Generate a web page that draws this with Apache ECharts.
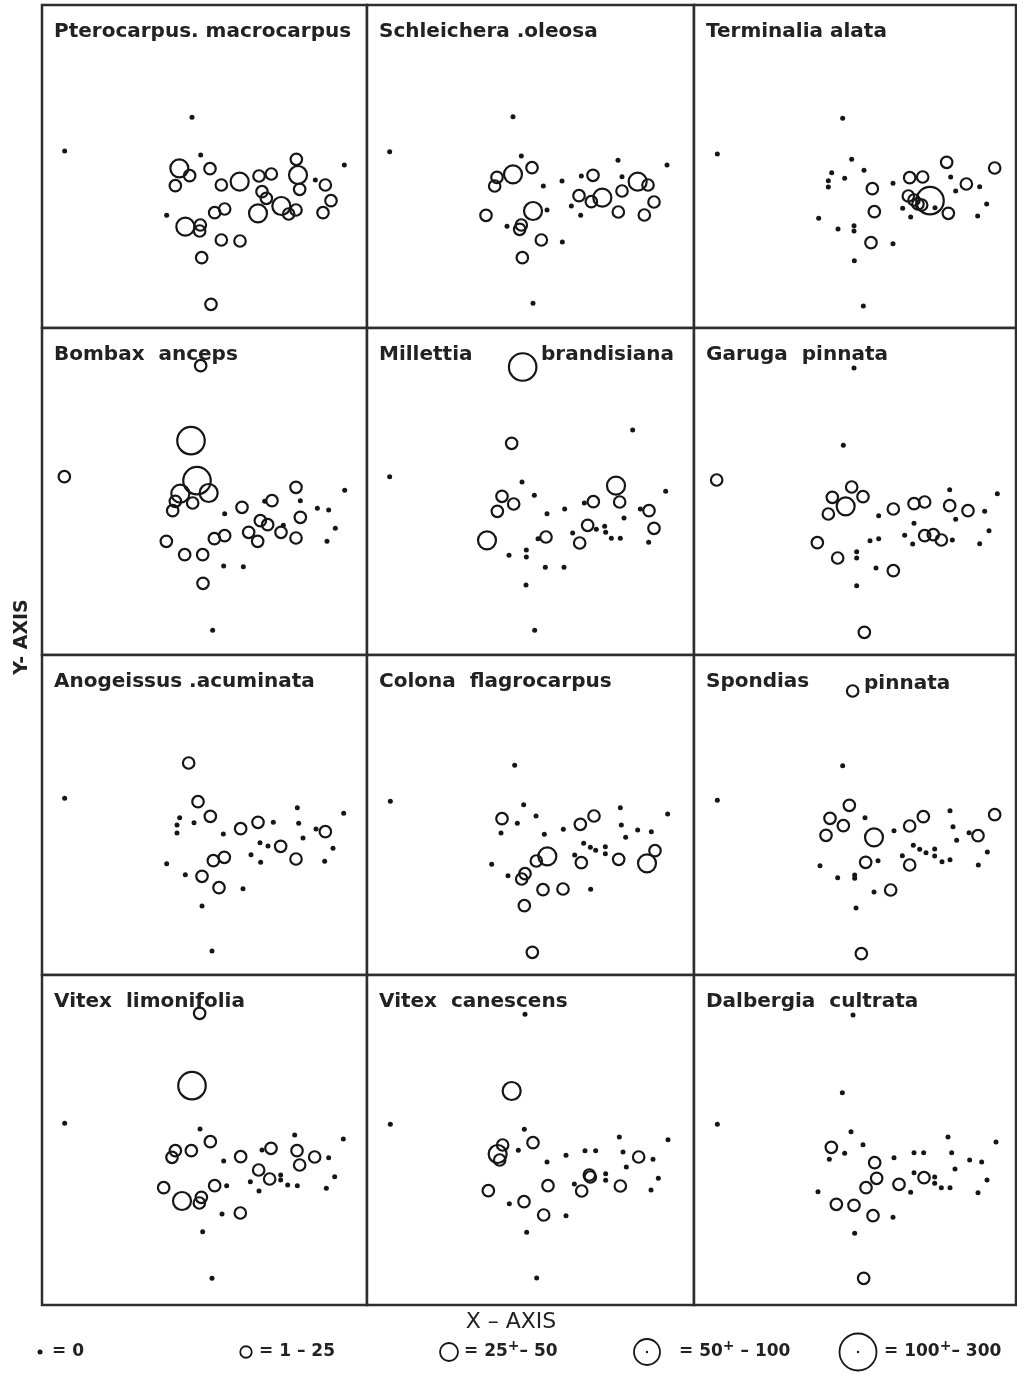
<!DOCTYPE html>
<html><head><meta charset="utf-8">
<script src="https://cdn.jsdelivr.net/npm/echarts@6/dist/echarts.min.js"></script>
<style>html,body{margin:0;padding:0;background:#fff}#c{width:1017px;height:1373px}</style>
</head><body><div id="c"></div>
<script>
// Species titles (row-major order of panels)
const speciesNames = [
  'Pterocarpus. macrocarpus','Schleichera .oleosa','Terminalia alata',
  'Bombax  anceps','Millettia','Garuga  pinnata',
  'Anogeissus .acuminata','Colona  flagrocarpus','Spondias',
  'Vitex  limonifolia','Vitex  canescens','Dalbergia  cultrata'
];
// abundance classes: 0 = 0, 1 = 1-25, 2 = 25+-50, 3 = 50+-100, 4 = 100+-300
const classLabels = ['= 0','= 1 – 25','= 25+– 50','= 50+ – 100','= 100+– 300'];

// Site scores [x, y, abundance class] for each species
const pterocarpus = [[450,337,0],[68,438,0],[476,450,0],[907,480,0],[820,525,0],[374,631,0],
 [412,490,2],[443,512,1],[400,542,1],[504,491,1],[538,540,1],[593,530,2],[651,513,1],[688,507,1],
 [763,463,1],[768,510,2],[773,553,1],[850,540,1],[867,587,1],[843,623,1],[660,560,1],[673,580,1],
 [648,625,2],[718,603,2],[740,627,1],[762,615,1],[548,612,1],[518,623,1],[430,665,2],[475,660,1],
 [473,678,1],[538,705,1],[594,708,1],[479,758,1],[507,898,1]];
const schleichera = [[438,335,0],[68,440,0],[463,453,0],[753,466,0],[900,480,0],[585,528,0],[643,513,0],
 [765,515,0],[529,543,0],[613,603,0],[540,615,0],[641,631,0],[420,664,0],[586,711,0],[498,895,0],
 [390,517,1],[383,543,1],[438,508,2],[495,488,1],[498,618,2],[357,631,1],[463,660,1],[458,673,1],
 [523,705,1],[466,758,1],[678,511,1],[636,572,1],[673,590,1],[706,578,2],[765,558,1],[812,530,2],
 [843,540,1],[861,591,1],[754,621,1],[832,630,1]];
const terminalia = [[446,340,0],[70,447,0],[473,463,0],[413,503,0],[510,496,0],[403,527,0],[403,546,0],
 [452,520,0],[597,535,0],[770,516,0],[785,558,0],[857,545,0],[878,597,0],[851,633,0],[374,640,0],
 [432,672,0],[480,662,0],[480,678,0],[626,610,0],[650,636,0],[723,608,0],[597,716,0],[481,767,0],[508,903,0],
 [535,551,1],[541,620,1],[531,713,1],[647,518,1],[686,516,1],[758,472,1],[817,537,1],[902,489,1],
 [643,573,1],[660,585,1],[672,597,1],[683,600,1],[708,587,3],[763,625,1]];
const bombax = [[476,113,1],[447,338,3],[465,458,3],[415,497,2],[500,495,2],[400,520,1],[392,548,1],
 [452,525,1],[67,446,1],[762,478,1],[690,518,1],[600,538,1],[775,568,1],[655,578,1],[677,590,1],
 [717,613,1],[620,613,1],[647,640,1],[762,630,1],[548,623,1],[517,632,1],[373,640,1],[428,680,1],
 [482,680,1],[483,766,1],
 [908,487,0],[775,518,0],[826,541,0],[860,546,0],[880,601,0],[855,640,0],[548,557,0],[668,520,0],
 [724,592,0],[545,714,0],[604,716,0],[512,907,0]];
const millettia = [[467,117,3],[434,346,1],[747,473,2],[405,505,1],[440,528,1],[391,550,1],[360,637,2],
 [679,521,1],[758,522,1],[846,548,1],[861,601,1],[662,592,1],[537,627,1],[638,645,1],
 [797,306,0],[68,446,0],[465,462,0],[502,502,0],[896,490,0],[593,543,0],[540,557,0],[771,570,0],
 [820,543,0],[652,525,0],[713,595,0],[716,613,0],[688,604,0],[617,615,0],[733,631,0],[760,631,0],
 [845,643,0],[513,632,0],[426,682,0],[478,666,0],[478,687,0],[535,718,0],[591,718,0],[477,771,0],[503,907,0]];
const garuga = [[68,456,1],[473,477,1],[415,508,1],[455,535,2],[507,506,1],[403,558,1],[598,543,1],
 [660,527,1],[692,522,1],[767,533,1],[822,548,1],[692,623,1],[718,620,1],[742,636,1],[370,644,1],
 [431,690,1],[598,728,1],[511,913,1],
 [480,120,0],[448,352,0],[767,485,0],[910,497,0],[872,550,0],[554,563,0],[785,574,0],[660,586,0],
 [885,608,0],[632,622,0],[554,632,0],[528,638,0],[656,648,0],[775,636,0],[857,647,0],[488,671,0],
 [488,690,0],[546,720,0],[488,773,0]];
const anogeissus = [[440,324,1],[468,440,1],[505,484,1],[596,521,1],[648,502,1],[850,530,1],[716,574,1],
 [762,612,1],[547,607,1],[514,617,1],[480,664,1],[531,698,1],
 [68,430,0],[413,488,0],[405,510,0],[405,534,0],[456,503,0],[544,537,0],[694,502,0],[766,458,0],
 [770,505,0],[905,475,0],[822,522,0],[783,549,0],[654,563,0],[678,573,0],[873,580,0],[627,599,0],
 [656,622,0],[848,619,0],[374,626,0],[430,659,0],[603,701,0],[480,753,0],[510,888,0]];
const colona = [[405,491,1],[640,508,1],[681,483,1],[541,604,2],[508,618,1],[643,623,1],[755,613,1],
 [864,587,1],[840,625,2],[474,656,1],[464,672,1],[528,704,1],[588,702,1],[472,752,1],[496,892,1],
 [443,331,0],[70,439,0],[470,449,0],[507,483,0],[451,505,0],[402,534,0],[532,538,0],[589,523,0],
 [760,458,0],[763,510,0],[812,525,0],[853,530,0],[902,477,0],[776,547,0],[650,565,0],[670,577,0],
 [686,586,0],[715,575,0],[715,596,0],[623,600,0],[374,628,0],[423,662,0],[671,703,0]];
const spondias = [[476,108,1],[466,451,1],[408,490,1],[448,512,1],[396,541,1],[540,547,2],[647,513,1],
 [688,485,1],[852,542,1],[902,479,1],[515,622,1],[647,630,1],[590,705,1],[502,896,1],
 [446,332,0],[70,436,0],[513,488,0],[768,467,0],[777,515,0],[600,527,0],[788,556,0],[825,533,0],
 [658,571,0],[677,583,0],[696,593,0],[722,582,0],[722,603,0],[744,620,0],[768,614,0],[880,591,0],
 [853,630,0],[625,602,0],[552,617,0],[378,632,0],[431,668,0],[482,660,0],[482,670,0],[540,711,0],[486,759,0]];
const vitexLimonifolia = [[473,115,1],[450,332,3],[505,500,1],[448,527,1],[400,527,1],[390,547,1],
 [596,545,1],[687,520,1],[765,527,1],[773,570,1],[818,546,1],[650,585,1],[683,612,1],[518,632,1],
 [365,638,1],[420,678,2],[478,667,1],[472,684,1],[595,714,1],
 [68,445,0],[474,462,0],[758,480,0],[904,492,0],[860,548,0],[545,558,0],[660,525,0],[716,600,0],
 [716,615,0],[737,630,0],[766,632,0],[878,605,0],[853,640,0],[625,620,0],[651,648,0],[554,632,0],
 [540,717,0],[482,770,0],[510,910,0]];
const vitexCanescens = [[434,348,2],[407,510,1],[392,537,2],[398,555,1],[498,503,1],[815,546,1],
 [667,600,1],[670,606,1],[543,632,1],[644,648,1],[760,633,1],[364,647,1],[471,680,1],[530,720,1],
 [474,118,0],[70,448,0],[472,463,0],[757,486,0],[903,494,0],[454,526,0],[540,561,0],[597,541,0],
 [654,527,0],[686,527,0],[768,531,0],[858,553,0],[778,576,0],[716,596,0],[716,616,0],[622,627,0],
 [874,610,0],[852,645,0],[427,686,0],[597,722,0],[479,772,0],[509,909,0]];
const dalbergia = [[412,517,1],[542,563,1],[548,610,1],[516,638,1],[615,628,1],[690,608,1],[427,688,1],
 [480,691,1],[537,722,1],[509,910,1],
 [477,120,0],[445,353,0],[70,448,0],[471,470,0],[452,535,0],[507,509,0],[406,553,0],[600,548,0],
 [660,533,0],[689,533,0],[762,486,0],[773,533,0],[906,501,0],[827,555,0],[863,561,0],[783,582,0],
 [660,593,0],[722,606,0],[722,625,0],[742,638,0],[768,638,0],[879,615,0],[852,653,0],[650,652,0],
 [372,650,0],[597,727,0],[482,775,0]];

const speciesData = [pterocarpus, schleichera, terminalia, bombax, millettia, garuga,
  anogeissus, colona, spondias, vitexLimonifolia, vitexCanescens, dalbergia];

// ---- layout / style (not data) ----
const colLeft = [42, 367, 694], colW = [325, 327, 322];
const rowTop = [5, 328, 655, 975], rowH = [323, 327, 320, 330];
const symSize = [5, 11.5, 18, 27.5, 36];
const ink = '#161616';
const txt = '#222';
const titleFont = 'bold 20px "DejaVu Sans", "Liberation Sans", sans-serif';

const chart = echarts.init(document.getElementById('c'), null, {renderer: 'canvas'});
const grids = [], xAxes = [], yAxes = [], series = [], graphics = [];
speciesData.forEach((pts, i) => {
  const r = Math.floor(i / 3), c = i % 3;
  grids.push({left: colLeft[c], top: rowTop[r], width: colW[c], height: rowH[r],
    show: true, borderColor: '#2e2e2e', borderWidth: 2.5, backgroundColor: '#fff'});
  xAxes.push({gridIndex: i, type: 'value', min: 0, max: colW[c] * 3, show: false});
  yAxes.push({gridIndex: i, type: 'value', min: 0, max: rowH[r] * 3, inverse: true, show: false});
  series.push({
    type: 'scatter', xAxisIndex: i, yAxisIndex: i, symbol: 'circle',
    symbolSize: v => symSize[v[2]],
    data: pts.map(p => ({value: p, itemStyle: p[2] === 0
      ? {color: ink, borderWidth: 0, opacity: 1}
      : {color: 'rgba(0,0,0,0)', borderColor: ink, borderWidth: 2.2, opacity: 1}})),
    emphasis: {disabled: true}, silent: true, z: 3
  });
  graphics.push({type: 'text', left: colLeft[c] + 12, top: rowTop[r] + 17, z: 10,
    style: {text: speciesNames[i], font: titleFont, fill: txt}});
});
// second word of Millettia / Spondias titles placed further right as in reference
graphics.push({type: 'text', left: 367 + 174, top: 328 + 17, z: 10,
  style: {text: 'brandisiana', font: titleFont, fill: txt}});
graphics.push({type: 'text', left: 694 + 170, top: 655 + 19, z: 10,
  style: {text: 'pinnata', font: titleFont, fill: txt}});

// axis labels
graphics.push({type: 'text', x: 511, y: 1322, z: 10,
  style: {text: 'X – AXIS', font: '22px "DejaVu Sans", sans-serif', fill: txt, textAlign: 'center', textVerticalAlign: 'middle'}});
graphics.push({type: 'text', x: 22, y: 637, rotation: Math.PI / 2, z: 10,
  style: {text: 'Y- AXIS', font: 'bold 19px "DejaVu Sans", sans-serif', fill: txt, textAlign: 'center', textVerticalAlign: 'middle'}});

// legend
const legItems = [
  {cx: 40, size: 5, tx: 52},
  {cx: 246, size: 11.5, tx: 259},
  {cx: 449, size: 18, tx: 464},
  {cx: 647, size: 26, tx: 679, dot: true},
  {cx: 858, size: 37, tx: 884, dot: true}
];
legItems.forEach((it, k) => {
  graphics.push({type: 'circle', shape: {cx: it.cx, cy: 1352, r: it.size / 2}, z: 10,
    style: k === 0 ? {fill: ink} : {fill: 'none', stroke: ink, lineWidth: 1.8}});
  if (it.dot) graphics.push({type: 'circle', shape: {cx: it.cx, cy: 1352, r: 1.2}, z: 10, style: {fill: ink}});
  const rich = '{n|' + classLabels[k].replace('+', '}{s|+}{n|') + '}';
  graphics.push({type: 'text', x: it.tx, y: 1352, z: 10,
    style: {text: rich, textVerticalAlign: 'middle',
      rich: {
        n: {font: 'bold 17px "DejaVu Sans", sans-serif', fill: txt, fontSize: 17, fontWeight: 'bold', fontFamily: 'DejaVu Sans', color: txt},
        s: {fontSize: 14, fontWeight: 'bold', fontFamily: 'DejaVu Sans', fill: txt, color: txt, padding: [0, 0, 12, 0]}
      }}});
});

chart.setOption({
  animation: false,
  backgroundColor: '#fff',
  grid: grids, xAxis: xAxes, yAxis: yAxes, series: series,
  graphic: {elements: graphics}
});
</script></body></html>
